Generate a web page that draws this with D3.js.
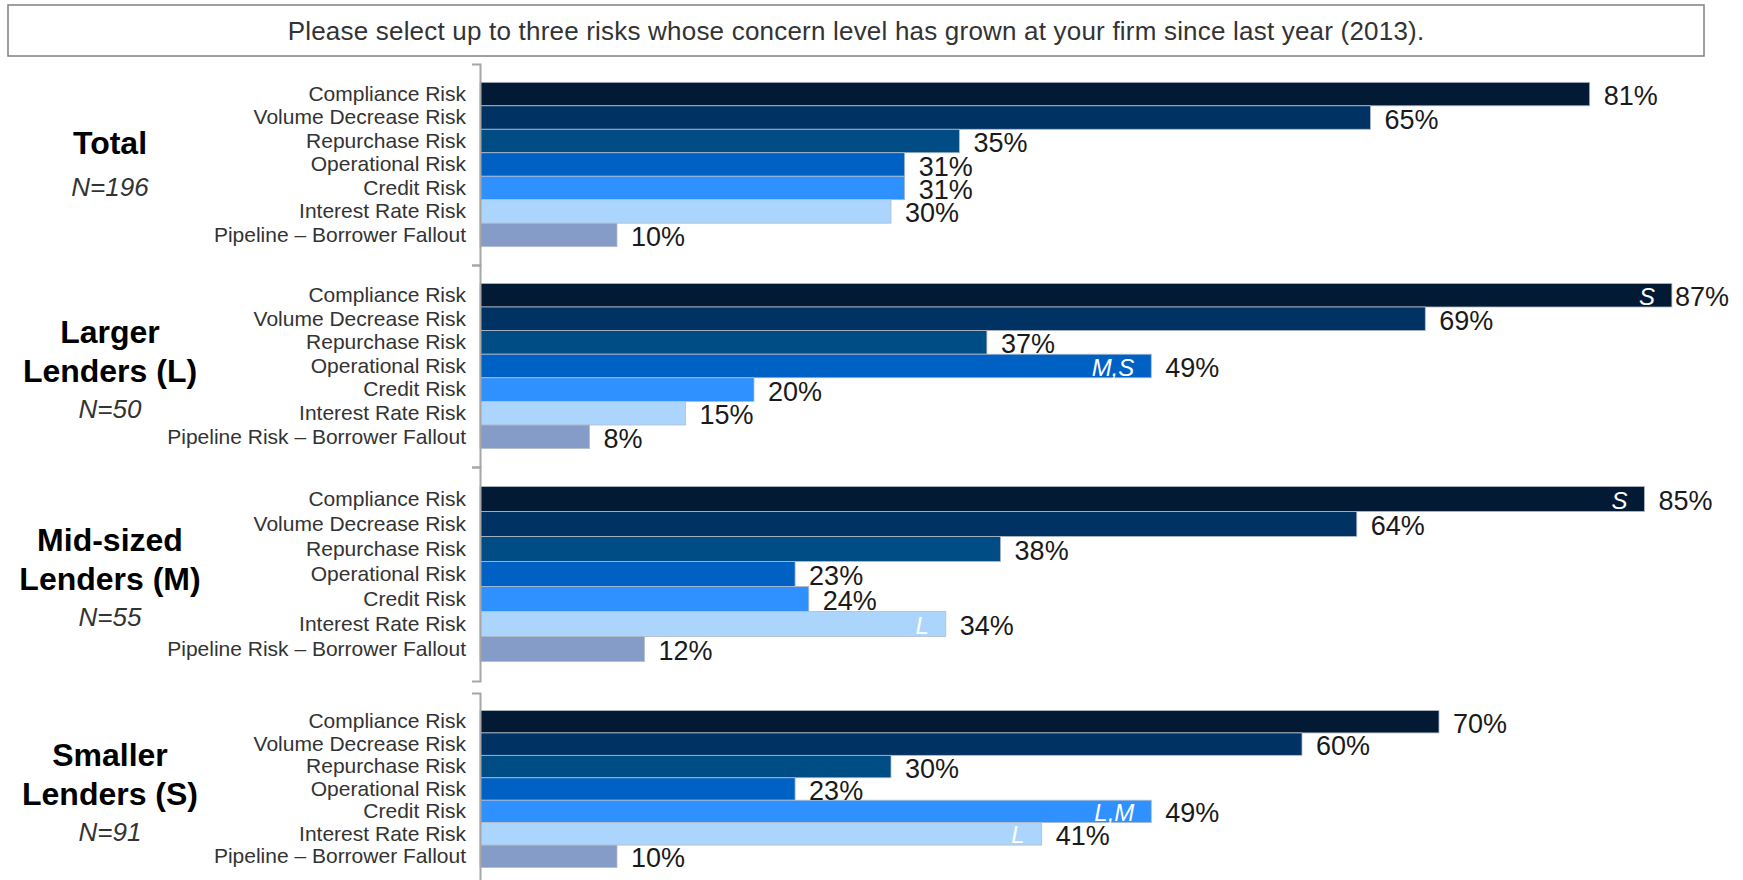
<!DOCTYPE html>
<html>
<head>
<meta charset="utf-8">
<script src="https://cdn.jsdelivr.net/npm/d3@7"></script>
<style>
  html, body { margin: 0; padding: 0; background: #fff; }
  svg { display: block; font-family: "Liberation Sans", Arial, sans-serif; }
</style>
</head>
<body>
<script>
// ─── data ────────────────────────────────────────────────────────────────────
const question = 'Please select up to three risks whose concern level has grown at your firm since last year (2013).';

const risks = ['Compliance Risk', 'Volume Decrease Risk', 'Repurchase Risk', 'Operational Risk',
  'Credit Risk', 'Interest Rate Risk', 'Pipeline Risk – Borrower Fallout'];
// the last category is worded differently in some panels
const pipelineLabels = ['Pipeline – Borrower Fallout', 'Pipeline Risk – Borrower Fallout',
  'Pipeline Risk – Borrower Fallout', 'Pipeline – Borrower Fallout'];

const groupTitles = [['Total'], ['Larger', 'Lenders (L)'], ['Mid-sized', 'Lenders (M)'], ['Smaller', 'Lenders (S)']];
const groupN = ['N=196', 'N=50', 'N=55', 'N=91'];

const totalValues = [81, 65, 35, 31, 31, 30, 10];
const largerValues = [87, 69, 37, 49, 20, 15, 8];
const midValues = [85, 64, 38, 23, 24, 34, 12];
const smallerValues = [70, 60, 30, 23, 49, 41, 10];

// significance letters shown inside bars
const totalSig = ['', '', '', '', '', '', ''];
const largerSig = ['S', '', '', 'M,S', '', '', ''];
const midSig = ['S', '', '', '', '', 'L', ''];
const smallerSig = ['', '', '', '', 'L,M', 'L', ''];

const riskColors = ['#021a33', '#003264', '#004c85', '#0061c5', '#2e91ff', '#acd5fd', '#869cc8'];

// ─── layout ──────────────────────────────────────────────────────────────────
const W = 1743, H = 880;
const AXIS_X = 480;
const panels = [
  { top: 64, bottom: 265, values: totalValues, sig: totalSig },
  { top: 265, bottom: 467, values: largerValues, sig: largerSig },
  { top: 467, bottom: 681, values: midValues, sig: midSig },
  { top: 693, bottom: 885, values: smallerValues, sig: smallerSig },
];

const svg = d3.select('body').append('svg').attr('width', W).attr('height', H);

// question box
svg.append('rect')
  .attr('x', 8).attr('y', 5).attr('width', 1696).attr('height', 51)
  .attr('fill', '#fff').attr('stroke', '#808080').attr('stroke-width', 1.5);
svg.append('text')
  .attr('x', 856).attr('y', 31)
  .attr('text-anchor', 'middle').attr('dominant-baseline', 'central')
  .attr('font-size', 26).attr('letter-spacing', 0.2).attr('fill', '#333')
  .text(question);

const x = d3.scaleLinear().domain([0, 100]).range([AXIS_X, AXIS_X + 1370]);
const color = d3.scaleOrdinal().domain(risks).range(riskColors);

panels.forEach((p, gi) => {
  const y = d3.scaleBand().domain(risks).range([p.top, p.bottom]).paddingInner(0).paddingOuter(0.78);
  const rows = risks.map((r, i) => ({ risk: r, value: p.values[i], sig: p.sig[i] }));
  const g = svg.append('g');

  g.selectAll('rect.bar')
    .data(rows)
    .join('rect')
    .attr('class', 'bar')
    .attr('x', x(0))
    .attr('y', (d) => y(d.risk))
    .attr('width', (d) => x(d.value) - x(0))
    .attr('height', y.bandwidth())
    .attr('fill', (d) => color(d.risk))
    .attr('stroke', '#b4bcc8')
    .attr('stroke-width', 0.8);

  // significance letters
  g.selectAll('text.sig')
    .data(rows.filter((d) => d.sig))
    .join('text')
    .attr('class', 'sig')
    .attr('x', (d) => x(d.value) - 17)
    .attr('y', (d) => y(d.risk) + y.bandwidth() / 2 + 1)
    .attr('text-anchor', 'end').attr('dominant-baseline', 'central')
    .attr('font-size', 24).attr('font-style', 'italic').attr('fill', '#fff')
    .text((d) => d.sig);

  // value labels
  g.selectAll('text.val')
    .data(rows)
    .join('text')
    .attr('class', 'val')
    .attr('x', (d) => x(d.value) + 14)
    .attr('y', (d) => y(d.risk) + y.bandwidth() / 2 + 2)
    .attr('dominant-baseline', 'central')
    .attr('font-size', 27).attr('fill', '#1a1a1a')
    .text((d) => `${d.value}%`)
    .each(function (d) {
      // pull the label back in if it would run past the edge
      const w = this.getComputedTextLength();
      const over = x(d.value) + 14 + w - (W - 14);
      if (over > 0) d3.select(this).attr('x', x(d.value) + Math.max(3, 14 - over));
    });

  // category axis with bracket ends
  const axis = g.append('g')
    .attr('transform', `translate(${AXIS_X},0)`)
    .call(d3.axisLeft(y).tickSizeInner(0).tickSizeOuter(8).tickPadding(14)
      .tickFormat((d, i) => (i === risks.length - 1 ? pipelineLabels[gi] : d)));
  axis.select('.domain').attr('stroke', '#a6a6a6').attr('stroke-width', 2);
  axis.selectAll('.tick text').attr('font-size', 21).attr('fill', '#333')
    .attr('font-family', '"Liberation Sans", Arial, sans-serif');

  // group title block, centred on the bars
  const lines = groupTitles[gi];
  const c = y(risks[0]) + (y(risks[risks.length - 1]) + y.bandwidth() - y(risks[0])) / 2;
  const first = lines.length === 1 ? c - 22 : c - 34;
  lines.forEach((t, li) => {
    svg.append('text')
      .attr('x', 110).attr('y', first + li * 39)
      .attr('text-anchor', 'middle').attr('dominant-baseline', 'central')
      .attr('font-size', 32).attr('font-weight', 'bold').attr('fill', '#000')
      .text(t);
  });
  svg.append('text')
    .attr('x', 110).attr('y', lines.length === 1 ? c + 22 : c + 43)
    .attr('text-anchor', 'middle').attr('dominant-baseline', 'central')
    .attr('font-size', 26).attr('font-style', 'italic').attr('fill', '#333')
    .text(groupN[gi]);
});
</script>
</body>
</html>
